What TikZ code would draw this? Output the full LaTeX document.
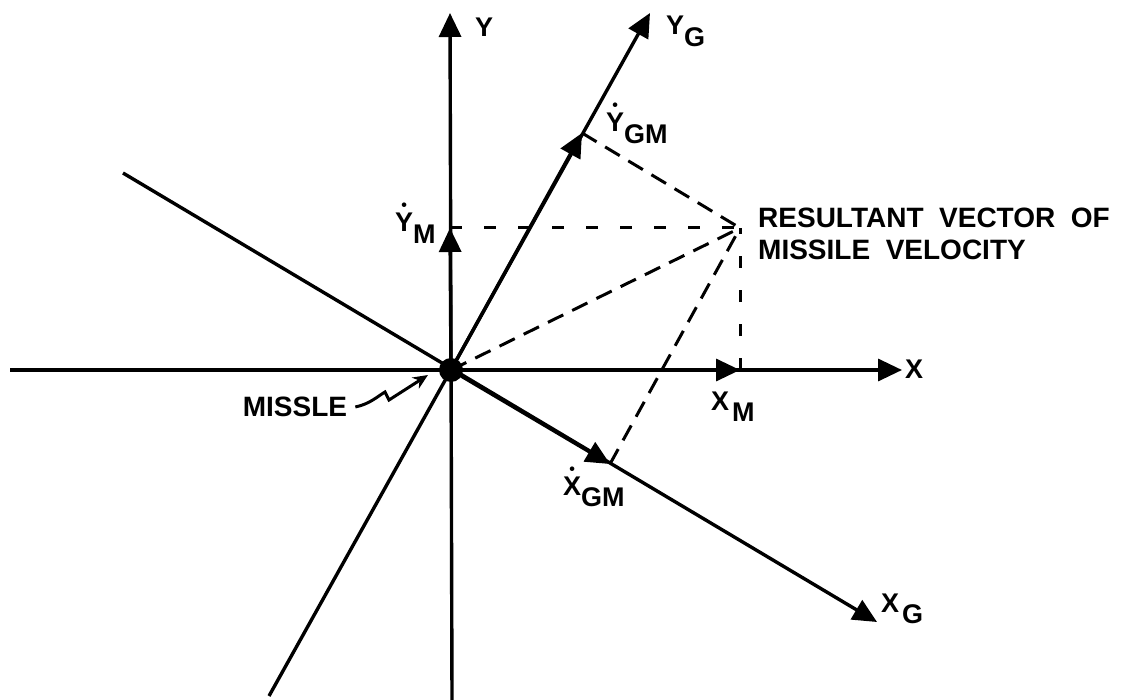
\documentclass[tikz,border=0pt]{standalone}
\usepackage{fontspec}
\newfontfamily\lettering{Liberation Sans}
\usetikzlibrary{arrows.meta}
\newcommand{\dotover}[1]{\ooalign{#1\cr\hidewidth\raisebox{21pt}{\fontsize{16}{16}\selectfont\textbullet}\hidewidth\cr}}
\newcommand{\sub}[2]{\kern#1\raisebox{-0.42em}{#2}}
\begin{document}
\begin{tikzpicture}[x=1pt,y=-1pt,
  axis/.style={line width=3.4pt,-{Triangle[length=24pt,width=22pt]}},
  comp/.style={line width=3.4pt,-{Triangle[length=24pt,width=22pt]}},
  proj/.style={line width=3pt,dash pattern=on 12pt off 22pt},
  para/.style={line width=3pt,dash pattern=on 17pt off 10pt},
  lbl/.style={font=\lettering\bfseries\fontsize{27}{30}\selectfont,inner sep=0pt,anchor=base west},
  txt/.style={font=\lettering\bfseries\fontsize{28}{32}\selectfont,inner sep=0pt}]
\useasboundingbox (0,0) rectangle (1123,700);
% points
\coordinate (O) at (451,370);
\coordinate (Ytop) at (450,13);
\coordinate (Ybot) at (452,700);
\coordinate (Xleft) at (10,370);
\coordinate (Xtip) at (902,370);
\coordinate (YGtip) at (650,13);
\coordinate (YGbot) at (269,696);
\coordinate (XGstart) at (123,173);
\coordinate (XGtip) at (877,622);
\coordinate (YM) at (450,228);
\coordinate (XM) at (740,370);
\coordinate (YGM) at (582,133);
\coordinate (XGM) at (610,464);
\coordinate (R) at (740,228);
\coordinate (Mtip) at (428,375);
% axes
\draw[axis] (Ybot) -- (Ytop);
\draw[axis] (Xleft) -- (Xtip);
\draw[axis] (YGbot) -- (YGtip);
\draw[axis] (XGstart) -- (XGtip);
% components
\draw[comp] (O) -- (YM);
\draw[comp] (O) -- (XM);
\draw[comp] (O) -- (YGM);
\draw[comp] (O) -- (XGM);
% dashed construction lines
\draw[proj] (YM) -- (R);
\draw[proj] (XM) -- (R);
\draw[para] (YGM) -- (R);
\draw[para] (XGM) -- (R);
\draw[para] (O) -- (R);
% missile
\fill (O) circle (12pt);
% labels
\node[lbl] (lY) at (475,37) {Y};
\node[lbl] (lYG) at (666,35) {Y\sub{0pt}{G}};
\node[lbl] (lYGM) at (606,132) {\dotover{Y}\sub{0pt}{GM}};
\node[lbl] (lYM) at (395,232) {\dotover{Y}\sub{0pt}{M}};
\node[lbl] (lX) at (905,378) {X};
\node[lbl] (lXM) at (711,410) {X\sub{3pt}{M}};
\node[lbl] (lXGM) at (563,495) {\dotover{X}\sub{0pt}{GM}};
\node[lbl] (lXG) at (881,612) {X\sub{3pt}{G}};
\node[txt,anchor=west,align=left] (res) at (758,234) {RESULTANT\ \ VECTOR\ \ OF\\MISSILE\ \ VELOCITY};
\node[txt] (miss) at (295,407) {MISSLE};
\draw[line width=3pt,-{Stealth[length=15pt,width=13pt]}]
  ([xshift=8pt]miss.east) .. controls (370,404) and (378,396) .. (385,392) -- (389,400) -- (Mtip);
\end{tikzpicture}
\end{document}
